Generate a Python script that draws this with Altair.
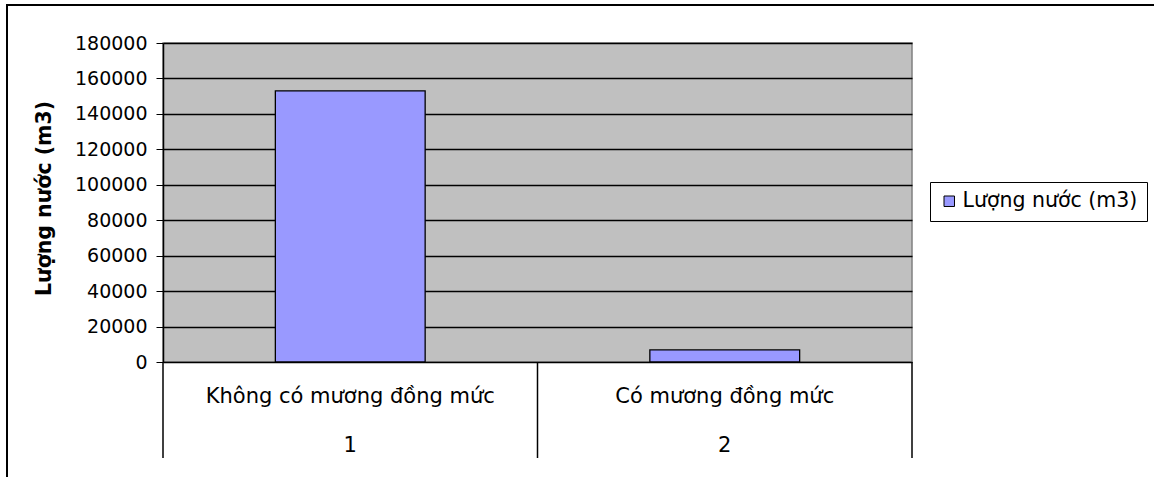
import altair as alt
import pandas as pd

categories = ["Không có mương đồng mức", "Có mương đồng mức"]
indices = ["1", "2"]
values = [153000, 6800]
series_name = "Lượng nước (m3)"
y_ticks = [0, 20000, 40000, 60000, 80000, 100000, 120000, 140000, 160000, 180000]

FONT = "DejaVu Sans"

bars_df = pd.DataFrame({
    "category": categories,
    "index": indices,
    "value": values,
    "series": [series_name] * len(categories),
    "pos": [i + 0.5 for i in range(len(categories))],
})
sep_df = pd.DataFrame({"edge": list(range(len(categories) + 1))})

xscale = alt.Scale(domain=[0, len(categories)], nice=False, zero=False)
yscale = alt.Scale(domain=[0, 180000], nice=False)

base = alt.Chart(bars_df)

bars = base.transform_calculate(
    x0="datum.pos - 0.2", x1="datum.pos + 0.2"
).mark_bar(stroke="black", strokeWidth=1.3).encode(
    x=alt.X("x0:Q", scale=xscale, axis=None),
    x2="x1:Q",
    y=alt.Y("value:Q", scale=yscale,
            axis=alt.Axis(values=y_ticks, format="d", title="Lượng nước (m3)",
                          titleFont=FONT, titleFontSize=20.5, titleFontWeight="bold",
                          titleColor="black", titleX=-109, titleY=155,
                          labelFont=FONT, labelFontSize=19, labelColor="black",
                          labelPadding=9, tickSize=7, tickColor="black",
                          domainColor="black", domainWidth=1.5,
                          grid=True, gridColor="black", gridWidth=1.3, gridOpacity=1)),
    y2=alt.datum(0),
    color=alt.Color("series:N", scale=alt.Scale(range=["#9999FF"]),
                    legend=alt.Legend(title=None, orient="none", legendX=767, legendY=139,
                                      strokeColor="black", fillColor="white", padding=9,
                                      symbolType="square", symbolSize=110,
                                      symbolStrokeColor="black", symbolStrokeWidth=1,
                                      labelFont=FONT, labelFontSize=20.5, labelColor="black",
                                      labelOffset=3, labelLimit=400)),
)

seps = alt.Chart(sep_df).mark_rule(color="black", strokeWidth=1.5).encode(
    x=alt.X("edge:Q", scale=xscale, axis=None),
    y=alt.value(319),
    y2=alt.value(415),
)

cat_text = base.mark_text(font=FONT, fontSize=21, color="black", baseline="middle").encode(
    x=alt.X("pos:Q", scale=xscale, axis=None),
    y=alt.value(354),
    text="category:N",
)
idx_text = base.mark_text(font=FONT, fontSize=21, color="black", baseline="middle").encode(
    x=alt.X("pos:Q", scale=xscale, axis=None),
    y=alt.value(403),
    text="index:N",
)

frame = alt.Chart(pd.DataFrame({"a": [0]})).mark_rect(
    filled=False, stroke="black", strokeWidth=2
).encode(
    x=alt.value(-156), x2=alt.value(1000), y=alt.value(-38), y2=alt.value(450)
)

chart = alt.layer(frame, bars, seps, cat_text, idx_text).properties(
    width=749, height=319,
    autosize=alt.AutoSizeParams(type="none"),
    padding={"left": 163, "top": 43, "right": 242, "bottom": 115},
    background="white",
).configure_view(
    fill="#C0C0C0", stroke="#808080", strokeWidth=1.5
)

chart.save("out.html", embed_options={"renderer": "svg", "actions": False})
